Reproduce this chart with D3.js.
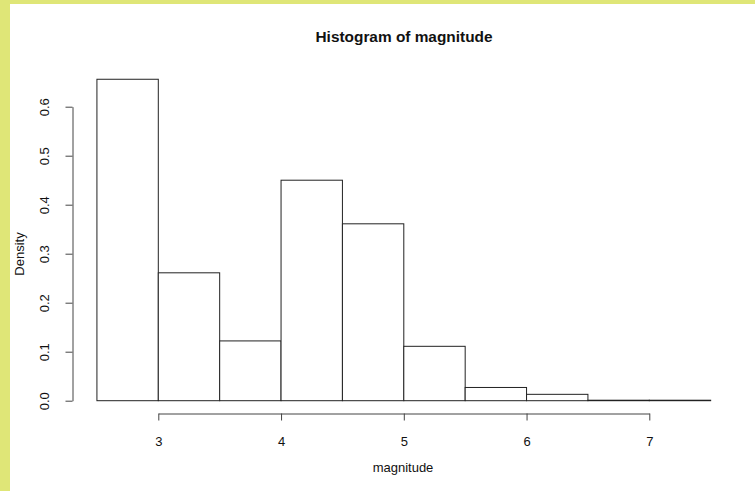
<!DOCTYPE html>
<html>
<head>
<meta charset="utf-8">
<script src="https://cdn.jsdelivr.net/npm/d3@7"></script>
<style>
  body { margin: 0; background: #fff; }
  svg text { font-family: "Liberation Sans", Arial, sans-serif; fill: #111; }
</style>
</head>
<body>
<div id="wrapper"></div>
<script>
// Data: bin edges and densities
const binStarts = [2.5, 3, 3.5, 4, 4.5, 5, 5.5, 6, 6.5, 7]
const binWidth = 0.5
const densities = [0.656, 0.261, 0.122, 0.450, 0.361, 0.111, 0.027, 0.013, 0.001, 0.001]
const xTicks = [3, 4, 5, 6, 7]
const yTicks = [0, 0.1, 0.2, 0.3, 0.4, 0.5, 0.6]

const title = 'Histogram of magnitude'
const xLabel = 'magnitude'
const yLabel = 'Density'

function drawPlot() {
  const width = 755
  const height = 491

  const svg = d3.select('#wrapper')
    .append('svg')
      .attr('width', width)
      .attr('height', height)

  // yellow frame on left and top
  svg.append('rect')
    .attr('x', 0).attr('y', 0)
    .attr('width', width).attr('height', height)
    .attr('fill', '#dfe677')
  svg.append('rect')
    .attr('x', 10).attr('y', 4)
    .attr('width', width - 10).attr('height', height - 4)
    .attr('fill', '#fff')

  // Scales
  const xScale = d3.scaleLinear()
    .domain([3, 7])
    .range([158.3, 649.3])

  const yScale = d3.scaleLinear()
    .domain([0, 0.6])
    .range([400.7, 106.7])

  // Bars
  svg.append('g')
    .selectAll('rect')
    .data(binStarts)
    .join('rect')
      .attr('x', d => xScale(d))
      .attr('width', d => xScale(d + binWidth) - xScale(d))
      .attr('y', (d, i) => yScale(densities[i]))
      .attr('height', (d, i) => yScale(0) - yScale(densities[i]))
      .attr('fill', '#fff')
      .attr('stroke', '#222')
      .attr('stroke-width', 1)

  // Axes (R style, offset from the plot)
  const xAxisGenerator = d3.axisBottom(xScale)
    .tickValues(xTicks)
    .tickFormat(d3.format('d'))
    .tickSizeInner(7)
    .tickSizeOuter(0)
    .tickPadding(16)

  const xAxis = svg.append('g')
    .attr('transform', 'translate(0, 413.5)')
    .call(xAxisGenerator)
  xAxis.select('.domain').attr('stroke', '#444')
  xAxis.selectAll('.tick line').attr('stroke', '#444')
  xAxis.selectAll('text')
    .attr('font-size', 13)
    .attr('font-family', '"Liberation Sans", Arial, sans-serif')
    .attr('fill', '#111')

  const yAxisGenerator = d3.axisLeft(yScale)
    .tickValues(yTicks)
    .tickFormat(d3.format('.1f'))
    .tickSizeInner(7)
    .tickSizeOuter(0)
    .tickPadding(0)

  const yAxis = svg.append('g')
    .attr('transform', 'translate(72.5, 0)')
    .call(yAxisGenerator)
  yAxis.select('.domain').attr('stroke', '#444')
  yAxis.selectAll('.tick line').attr('stroke', '#444')
  yAxis.selectAll('.tick text')
    .attr('font-size', 13)
    .attr('font-family', '"Liberation Sans", Arial, sans-serif')
    .attr('fill', '#111')
    .attr('text-anchor', 'middle')
    .attr('x', null)
    .attr('dy', null)
    .attr('transform', 'translate(-28, 0) rotate(-90)')
    .attr('y', 4.5)

  // Title and labels
  svg.append('text')
    .attr('x', 404)
    .attr('y', 42)
    .attr('text-anchor', 'middle')
    .attr('font-size', 15.4)
    .attr('font-weight', 'bold')
    .text(title)

  svg.append('text')
    .attr('x', 403)
    .attr('y', 472)
    .attr('text-anchor', 'middle')
    .attr('font-size', 13)
    .text(xLabel)

  svg.append('text')
    .attr('transform', 'translate(24, 254) rotate(-90)')
    .attr('text-anchor', 'middle')
    .attr('font-size', 13)
    .text(yLabel)
}
drawPlot()
</script>
</body>
</html>
